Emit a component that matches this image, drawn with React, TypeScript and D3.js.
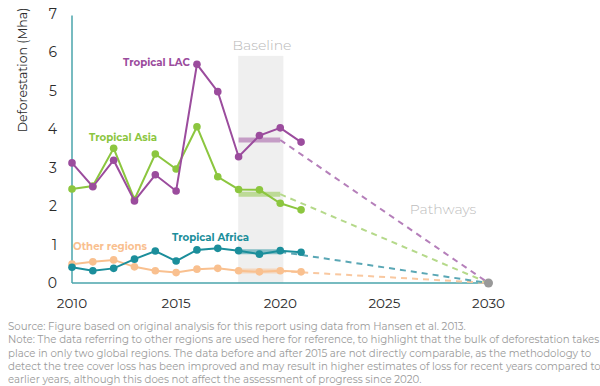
import React from "react";
import * as d3 from "d3";

const years = [2010, 2011, 2012, 2013, 2014, 2015, 2016, 2017, 2018, 2019, 2020, 2021];
const lac = [3.12, 2.5, 3.19, 2.13, 2.81, 2.39, 5.68, 4.97, 3.28, 3.83, 4.03, 3.66];
const asia = [2.44, 2.52, 3.5, 2.17, 3.35, 2.96, 4.06, 2.76, 2.43, 2.42, 2.07, 1.9];
const africa = [0.41, 0.32, 0.38, 0.62, 0.83, 0.57, 0.86, 0.9, 0.84, 0.75, 0.84, 0.8];
const other = [0.49, 0.55, 0.6, 0.42, 0.32, 0.27, 0.36, 0.38, 0.32, 0.29, 0.32, 0.29];
const xTicks = [2010, 2015, 2020, 2025, 2030];
const yTicks = [0, 1, 2, 3, 4, 5, 6, 7];
const baselineYears = [2018, 2020];
const targetYear = 2030;
const footnote = [
  "Source: Figure based on original analysis for this report using data from Hansen et al. 2013.",
  "Note: The data referring to other regions are used here for reference, to highlight that the bulk of deforestation takes",
  "place in only two global regions. The data before and after 2015 are not directly comparable, as the methodology to",
  "detect the tree cover loss has been improved and may result in higher estimates of loss for recent years compared to",
  "earlier years, although this does not affect the assessment of progress since 2020.",
];

const series = [
  { name: "Other regions", values: other, color: "#f9c08f", dash: "#f9c8a0", lx: 73, ly: 250 },
  { name: "Tropical Africa", values: africa, color: "#1b8e9b", dash: "#5aa7b5", lx: 172, ly: 241 },
  { name: "Tropical Asia", values: asia, color: "#8cc63f", dash: "#b5d98a", lx: 89, ly: 140.5 },
  { name: "Tropical LAC", values: lac, color: "#9b4c9d", dash: "#b57fba", lx: 123, ly: 66 },
];

const FONT = "Montserrat, 'Open Sans', 'DejaVu Sans', sans-serif";

export default function App() {
  const x = d3.scaleLinear().domain([2010, 2030]).range([72, 488.5]);
  const y = d3.scaleLinear().domain([0, 7]).range([283, 13.5]);
  const line = d3
    .line<[number, number]>()
    .x((d) => x(d[0]))
    .y((d) => y(d[1]));

  const mean = (vals: number[]) => {
    const idx0 = years.indexOf(baselineYears[0]);
    const idx1 = years.indexOf(baselineYears[1]);
    return d3.mean(vals.slice(idx0, idx1 + 1)) as number;
  };

  return (
    <svg width={600} height={386} style={{ position: "absolute", left: 0, top: 0 }} fontFamily={FONT}>
      <rect x={0} y={0} width={600} height={386} fill="#fff" />
      {/* baseline band */}
      <rect
        x={x(baselineYears[0] - 0.02)}
        y={y(5.9)}
        width={x(baselineYears[1] + 0.15) - x(baselineYears[0] - 0.02)}
        height={y(0) - y(5.9)}
        fill="#efefef"
      />
      <text x={262} y={50} textAnchor="middle" fontSize={14} fill="#b8b8b8" fontWeight={300}>
        Baseline
      </text>
      <text x={443} y={214} textAnchor="middle" fontSize={14} fill="#bdbdbd" fontWeight={300}>
        Pathways
      </text>

      {/* axes */}
      <line x1={x(2010)} x2={x(2010)} y1={y(7) + 2} y2={y(0)} stroke="#4aa5ab" strokeWidth={1.5} />
      <line x1={x(2010)} x2={x(2030)} y1={y(0)} y2={y(0)} stroke="#4aa5ab" strokeWidth={1.5} />
      {yTicks.map((t) => (
        <text key={t} x={57} y={y(t) + 5} textAnchor="end" fontSize={14} fill="#2b2b2b">
          {t}
        </text>
      ))}
      {xTicks.map((t) => (
        <text key={t} x={x(t)} y={308} textAnchor="middle" fontSize={13.5} fill="#2b2b2b">
          {t}
        </text>
      ))}
      <text
        transform={`translate(27,${70}) rotate(-90)`}
        textAnchor="middle"
        fontSize={12.5}
        fill="#2b2b2b"
      >
        Deforestation (Mha)
      </text>

      {/* baseline means and pathways */}
      {series.map((s) => {
        const m = mean(s.values);
        return (
          <g key={s.name + "b"}>
            <line
              x1={x(baselineYears[0])}
              x2={x(baselineYears[1])}
              y1={y(m)}
              y2={y(m)}
              stroke={s.color}
              strokeOpacity={0.5}
              strokeWidth={5}
            />
            <line
              x1={x(baselineYears[1])}
              x2={x(targetYear)}
              y1={y(m)}
              y2={y(0)}
              stroke={s.dash}
              strokeWidth={2}
              strokeDasharray="6,5"
            />
          </g>
        );
      })}

      {/* series lines */}
      {series.map((s) => {
        const pts = years.map((yr, i) => [yr, s.values[i]] as [number, number]);
        return (
          <g key={s.name}>
            <path d={line(pts) as string} fill="none" stroke={s.color} strokeWidth={2} />
            {pts.map((p, i) => (
              <circle key={i} cx={x(p[0])} cy={y(p[1])} r={3.8} fill={s.color} />
            ))}
            <text x={s.lx} y={s.ly} fontSize={10.2} fontWeight={700} fill={s.color}>
              {s.name}
            </text>
          </g>
        );
      })}
      <circle cx={x(targetYear)} cy={y(0)} r={4.5} fill="#999" />

      {footnote.map((t, i) => (
        <text key={i} x={8} y={330 + i * 13.3} fontSize={10.2} fill="#9a9a9a">
          {t}
        </text>
      ))}
    </svg>
  );
}
